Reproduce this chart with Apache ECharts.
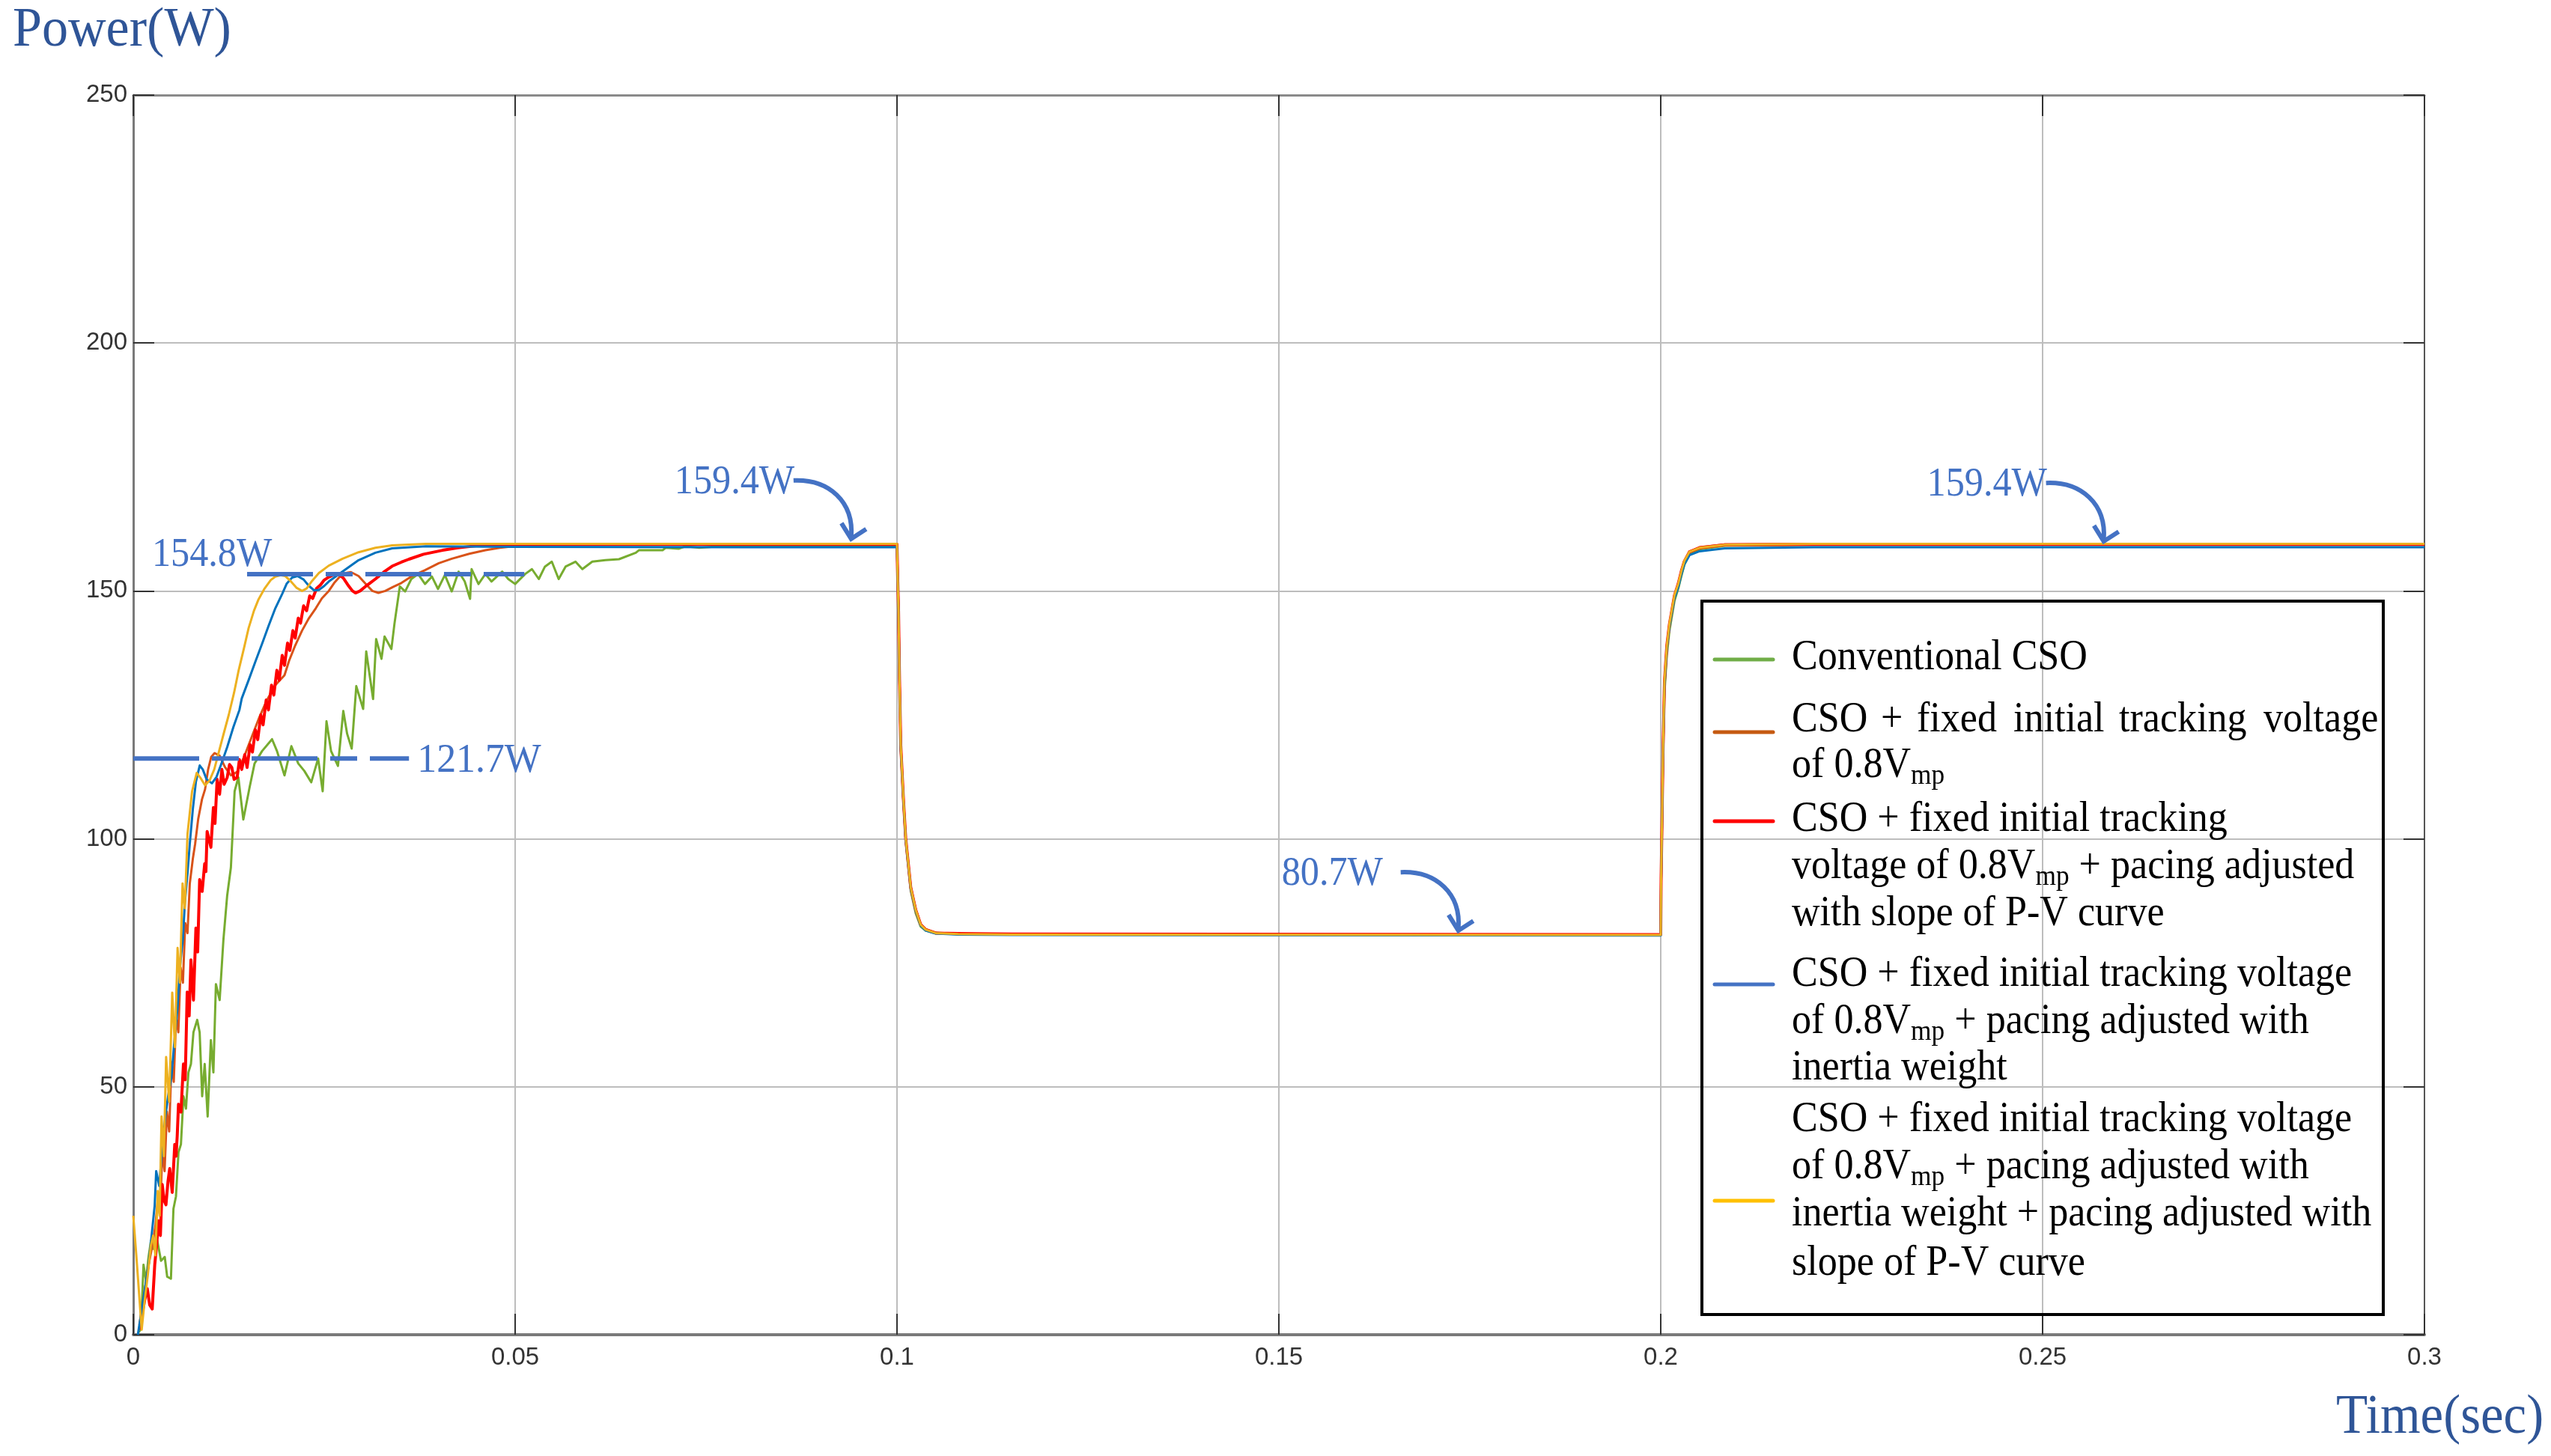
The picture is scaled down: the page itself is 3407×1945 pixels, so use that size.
<!DOCTYPE html>
<html>
<head>
<meta charset="utf-8">
<script src="https://cdn.jsdelivr.net/npm/echarts@6/dist/echarts.min.js"></script>
<style>html,body{margin:0;padding:0;background:#fff}#c{width:3407px;height:1945px}</style>
</head>
<body>
<div id="c"></div>
<script>
// ---------------- data (time in ms, power in W) ----------------
const seriesNames = [
  'Conventional CSO',
  'CSO + fixed initial tracking voltage of 0.8Vmp',
  'CSO + fixed initial tracking voltage of 0.8Vmp + pacing adjusted with slope of P-V curve',
  'CSO + fixed initial tracking voltage of 0.8Vmp + pacing adjusted with inertia weight',
  'CSO + fixed initial tracking voltage of 0.8Vmp + pacing adjusted with inertia weight + pacing adjusted with slope of P-V curve'
];
const xTicks = [0, 0.05, 0.1, 0.15, 0.2, 0.25, 0.3];
const yTicks = [0, 50, 100, 150, 200, 250];

const tGreen = [0.7, 1.0, 1.34, 1.67, 2.0, 2.32, 2.65, 3.14, 3.63, 4.12, 4.44, 4.93, 5.26, 5.59, 5.92, 6.24, 6.57, 6.9, 7.22, 7.55, 7.88,
  8.37, 8.69, 9.02, 9.35, 9.74, 10.16, 10.49, 10.82, 11.31, 11.8, 12.29, 12.78, 13.27, 13.76, 14.41, 15.23, 15.88, 16.86, 18.17, 18.82,
  19.8, 20.7, 21.6, 22.4, 23.3, 24.2, 24.8, 25.3, 25.9, 26.8, 27.5, 28.0, 28.6, 29.2, 30.1, 30.5, 31.4, 31.8, 32.5, 32.9,
  33.8, 34.2, 34.9, 35.6, 36.4, 37.3, 38.2, 39.1, 39.9, 40.8, 41.7, 42.6, 43.4, 44.1, 44.3, 45.2, 46.1, 46.9, 48.3, 49.1,
  50.0, 51.3, 52.2, 53.1, 53.9, 54.8, 55.7, 56.6, 57.9, 58.8, 60.1, 61.8, 63.6, 65.8, 66.2, 69.3, 69.7, 71.4, 72.3, 74.1, 76.7, 88.4];
const pGreen = [0.5, 1.2, 14.1, 10.9, 15.7, 19.0, 17.3, 19.0, 14.9, 15.7, 11.7, 11.3, 25.4, 27.9, 36.8, 38.4, 48.1, 45.6, 52.9, 54.6, 61.0,
  63.5, 61.0, 48.1, 54.6, 44.0, 59.4, 52.9, 70.7, 67.5, 79.6, 88.5, 94.2, 109.6, 112.4, 103.9, 110.4, 115.2, 117.7, 120.1, 117.7,
  112.8, 118.7, 115.2, 113.7, 111.4, 116.2, 109.6, 123.7, 117.7, 114.7, 125.8, 121.2, 118.2, 130.8, 126.2, 137.8, 128.2, 140.3, 136.3, 140.8,
  138.3, 143.4, 150.9, 149.9, 152.4, 153.4, 151.4, 152.9, 150.4, 153.2, 149.9, 153.9, 151.9, 148.4, 154.4, 151.4, 153.4, 151.9, 153.9, 152.4,
  151.4, 153.4, 154.4, 152.4, 154.9, 155.9, 152.4, 154.9, 155.9, 154.4, 155.9, 156.2, 156.4, 157.7, 158.2, 158.2, 158.7, 158.5, 159.0, 158.7, 159.0, 159.2];

const tOrange = [0.8, 1.2, 1.6, 2.0, 2.5, 2.9, 3.2, 3.5, 3.8, 4.1, 4.4, 4.7, 5.0, 5.3, 5.6, 5.9, 6.2, 6.5, 6.8, 7.1, 7.4, 7.8, 8.1, 8.5,
  9.0, 9.4, 9.8, 10.2, 10.65, 11.3, 12.0, 12.8, 13.6, 14.5, 15.5, 16.5, 17.5, 18.6, 19.8, 20.4, 21.2, 22.1, 23.0, 23.9, 24.7, 25.6,
  26.3, 27.0, 27.8, 28.5, 29.5, 30.5, 31.3, 32.1, 33.0, 34.0, 35.1, 36.5, 38.2, 40.0, 41.7, 44.0, 46.1, 48.0, 50.4, 55, 80];
const pOrange = [2, 6, 10, 14, 18, 22, 27, 24, 37, 33, 45, 41, 55, 51, 64, 61, 74, 71, 83, 81, 91, 96, 99, 104,
  108, 110, 114, 116.5, 117.3, 116.8, 114.5, 112.8, 113.5, 116.5, 120.5, 124.5, 128, 131, 133, 135.9, 139, 142, 144.5, 146.5, 148.5, 150,
  151.6, 152.8, 153.6, 153.8, 153, 151.3, 150, 149.6, 150, 150.8, 151.6, 153, 154.2, 155.6, 156.5, 157.5, 158.2, 158.7, 159.1, 159.4, 159.5];

const tRed = [0.9, 1.18, 1.5, 1.83, 2.15, 2.48, 2.81, 3.05, 3.3, 3.55, 3.79, 4.05, 4.28, 4.55, 4.77, 5.1, 5.43, 5.6, 5.75, 5.92, 6.24,
  6.57, 6.8, 7.06, 7.32, 7.55, 7.88, 8.2, 8.43, 8.69, 9.02, 9.35, 9.51, 9.67, 10.16, 10.49, 10.7, 10.98, 11.3, 11.6, 11.9, 12.3, 12.6,
  12.9, 13.2, 13.6, 13.9, 14.2, 14.6, 14.9, 15.3, 15.6, 16.0, 16.3, 16.7, 17.0, 17.4, 17.7, 18.1, 18.4, 18.8, 19.1, 19.5, 19.8, 20.2,
  20.5, 20.9, 21.2, 21.6, 21.9, 22.3, 22.7, 23.1, 23.5, 24.0, 24.5, 25.0, 25.6, 26.3, 26.9, 27.5, 28.2, 28.7, 29.1, 29.7, 30.4, 31.0,
  31.7, 32.8, 33.9, 35.1, 36.1, 38.0, 40.5, 42.5, 44.9, 49.2, 80];
const pRed = [1, 4.4, 7, 9.3, 6, 5.2, 14.1, 18, 23, 20, 30.3, 27, 26.2, 31, 33.5, 28.7, 38.4, 36, 40, 46.5, 44.9,
  54.6, 51.4, 69.1, 64.3, 75.6, 67.5, 82, 77.2, 91.8, 89.4, 95, 93.4, 101.5, 98.3, 106.3, 103.1, 112, 109, 114, 111, 112.4, 115,
  114.4, 112, 112.4, 116, 114, 117, 114.4, 119, 117.5, 122, 120, 125, 123, 128, 126, 131, 129, 134, 132, 137, 135, 139.5,
  138, 142, 140.5, 144.5, 143.5, 147, 146, 149, 148.5, 150.5, 151.2, 152.2, 152.8, 153.3, 153.4, 152.6, 151, 150, 149.6, 150, 150.9, 151.6,
  152.4, 153.8, 155, 155.8, 156.4, 157.4, 158.2, 158.7, 159.1, 159.4, 159.4];

const tBlue = [0.6, 1.1, 1.6, 2.0, 2.4, 2.8, 3.0, 3.4, 3.8, 4.2, 4.6, 5.0, 5.4, 5.8, 6.1, 6.5, 6.75, 7.1, 7.4, 7.8, 8.2, 8.7, 9.1,
  9.6, 10.3, 10.9, 11.5, 12.3, 13.1, 13.9, 14.2, 15.1, 16.0, 16.9, 17.7, 18.6, 19.5, 20.1, 20.8, 21.5, 22.3, 23.0, 23.7, 24.3,
  25.0, 25.6, 27.4, 29.5, 31.7, 33.9, 38.3, 50, 80];
const pBlue = [0, 5, 10, 14, 20, 26, 33, 30, 38, 44, 48.5, 52, 59.5, 66, 74, 80, 87, 93, 99, 106, 111.5, 114.8, 114,
  112, 111.2, 112.5, 115, 118.5, 122.5, 126, 128.3, 132, 135.8, 139.5, 142.9, 146.5, 149.4, 151.5, 152.7, 153.0, 152.3, 151.0, 150.1, 150.2,
  151.0, 151.9, 153.9, 156.2, 157.7, 158.6, 159.0, 158.9, 158.8];

const tYellow = [0, 0.4, 1.1, 1.5, 1.9, 2.3, 2.6, 2.9, 3.2, 3.45, 3.7, 4.0, 4.3, 4.7, 5.1, 5.45, 5.8, 6.1, 6.45, 6.75, 7.1, 7.7,
  8.3, 8.8, 9.4, 10.0, 10.6, 11.2, 11.8, 12.5, 13.2, 13.8, 14.5, 15.1, 15.8, 16.4, 17.2, 18.0, 18.6, 19.3, 19.9, 20.6, 21.4,
  22.1, 22.7, 23.4, 24.3, 25.6, 27.4, 29.5, 31.7, 33.9, 38.3, 50, 80];
const pYellow = [24, 16, 1, 7, 12, 18, 20, 16, 29, 24, 44, 36, 56, 47, 69, 58, 78, 71, 91, 86, 101, 109.6,
  113.3, 112.3, 110.8, 111.8, 114, 117.5, 121, 125, 129.5, 134, 138.5, 142.5, 146, 148.3, 150.5, 152.2, 152.9, 153.2, 153.0, 152, 150.6,
  150.0, 150.5, 152, 153.6, 155.1, 156.5, 157.8, 158.7, 159.2, 159.5, 159.5, 159.5];

// after 0.1 s: irradiance step down and back up
const tTail = [100, 100.1, 100.2, 100.33, 100.49, 100.82, 101.14, 101.8, 102.45, 103.1, 103.76, 105.07, 108, 115,
  200, 200.05, 200.16, 200.3, 200.49, 200.8, 201.14, 201.8, 202.3, 202.7, 203.1, 203.76, 205.07, 208.4, 220, 300];
const pGreenTail = [159.1, 152, 146, 132, 118, 108, 99.5, 89.5, 85, 82.3, 81.5, 80.9, 80.8, 80.7,
  80.6, 91, 101, 116, 129.5, 137, 142, 148, 150.5, 153, 155.3, 157.3, 158.4, 159.1, 159.3, 159.3];
const pOrangeTail = [159.5, 152, 146, 132, 119, 108.5, 100, 90.3, 85.8, 82.8, 81.8, 81.1, 80.8, 80.7,
  80.6, 92, 103, 118, 131.5, 138.8, 143.2, 149, 151.4, 154, 156, 157.9, 158.8, 159.4, 159.5, 159.5];
const pRedTail = [159.4, 152, 146, 132, 119, 108.6, 100.1, 90.2, 85.7, 82.7, 81.7, 81.0, 80.9, 80.8,
  80.7, 92, 103, 118, 131.7, 139, 143.3, 149.1, 151.5, 154, 156, 157.9, 158.7, 159.3, 159.4, 159.4];
const pBlueTail = [158.8, 151.5, 145.5, 131.5, 118.5, 108.3, 99.8, 90, 85.5, 82.5, 81.5, 80.9, 80.7, 80.6,
  80.5, 91.5, 102.5, 117.5, 131, 138.5, 142.8, 148.5, 150.8, 153.3, 155.4, 157.2, 158, 158.6, 158.8, 158.8];
const pYellowTail = [159.5, 152, 146, 132, 119, 108.7, 100.1, 90.2, 85.7, 82.7, 81.7, 81.0, 80.8, 80.7,
  80.6, 92, 103, 118, 131.9, 139, 143.4, 149.2, 151.5, 154, 156.1, 157.9, 158.7, 159.3, 159.5, 159.5];

// annotations
const guideLines = [
  { label: '154.8W', p: 153.4, from: 0.0149, to: 0.0512 },
  { label: '121.7W', p: 116.2, from: 0.0, to: 0.0361 }
];
const arrowNotes = [
  { label: '159.4W', t: 0.0940, p: 160.5 },
  { label: '80.7W', t: 0.1735, p: 81.5 },
  { label: '159.4W', t: 0.2580, p: 160.0 }
];

// ---------------- chart ----------------
const lineColors = ['#77AC30', '#D95319', '#FF0000', '#0072BD', '#EDB120'];
const legendColors = ['#70AD47', '#C55A11', '#FF0000', '#4472C4', '#FFC000'];
const toPairs = (ts, ps) => ts.map((t, i) => [t / 1000, ps[i]]);
const seriesData = [
  toPairs(tGreen.concat(tTail), pGreen.concat(pGreenTail)),
  toPairs(tOrange.concat(tTail), pOrange.concat(pOrangeTail)),
  toPairs(tRed.concat(tTail), pRed.concat(pRedTail)),
  toPairs(tBlue.concat(tTail), pBlue.concat(pBlueTail)),
  toPairs(tYellow.concat(tTail), pYellow.concat(pYellowTail))
];

const chart = echarts.init(document.getElementById('c'), null, { renderer: 'canvas', width: 3407, height: 1945 });

const tickStyle = { show: true, inside: true, length: 28, lineStyle: { color: '#333', width: 2 } };
const series = seriesData.map((d, i) => ({
  name: seriesNames[i], type: 'line', data: d, symbol: 'none', showSymbol: false,
  sampling: null, animation: false, silent: true, z: 2 + i,
  lineStyle: { color: lineColors[i], width: i === 2 ? 4 : 3, join: 'round' },
  itemStyle: { color: lineColors[i] }
}));
guideLines.forEach((gl, k) => {
  series.push({
    name: 'guide' + k, type: 'line', symbol: 'none', showSymbol: false, silent: true, animation: false, z: 20,
    data: [[gl.from, gl.p], [gl.to, gl.p]],
    lineStyle: { color: '#4472C4', width: 6, type: [88, 17, 36, 17], cap: 'butt' },
    itemStyle: { color: '#4472C4' }
  });
});

const option = {
  backgroundColor: '#ffffff',
  animation: false,
  grid: { left: 178, top: 127, width: 3060, height: 1656, containLabel: false, outerBoundsMode: 'none' },
  xAxis: [
    { type: 'value', min: xTicks[0], max: xTicks[xTicks.length - 1], interval: 0.05, position: 'bottom',
      axisLine: { show: true, onZero: false, lineStyle: { color: '#7a7a7a', width: 4 } },
      axisTick: tickStyle,
      axisLabel: { fontSize: 33, color: '#333', fontFamily: 'Liberation Sans', margin: 14,
        formatter: v => String(+v.toFixed(2)) },
      splitLine: { show: true, lineStyle: { color: '#bdbdbd', width: 2 } } },
    { type: 'value', min: xTicks[0], max: xTicks[xTicks.length - 1], interval: 0.05, position: 'top',
      axisLine: { show: true, onZero: false, lineStyle: { color: '#8a8a8a', width: 3 } },
      axisTick: tickStyle, axisLabel: { show: false }, splitLine: { show: false } }
  ],
  yAxis: [
    { type: 'value', min: yTicks[0], max: yTicks[yTicks.length - 1], interval: 50, position: 'left',
      axisLine: { show: true, onZero: false, lineStyle: { color: '#7a7a7a', width: 3 } },
      axisTick: tickStyle,
      axisLabel: { fontSize: 33, color: '#333', fontFamily: 'Liberation Sans', margin: 8 },
      splitLine: { show: true, lineStyle: { color: '#bdbdbd', width: 2 } } },
    { type: 'value', min: yTicks[0], max: yTicks[yTicks.length - 1], interval: 50, position: 'right',
      axisLine: { show: true, onZero: false, lineStyle: { color: '#555', width: 2 } },
      axisTick: tickStyle, axisLabel: { show: false }, splitLine: { show: false } }
  ],
  series: series
};
chart.setOption(option);

// ---------------- overlay graphics (text, arrows, legend) ----------------
const mctx = document.createElement('canvas').getContext('2d');
function textWidth(s, font) { mctx.font = font; return mctx.measureText(s).width; }
function txt(s, x, baseline, size, color, family, sx) {
  return { type: 'text', x: x, y: baseline - 0.34 * size, scaleX: sx, z: 200, silent: true,
    style: { text: s, x: 0, y: 0, fill: color, font: size + 'px "' + family + '"',
      align: 'left', verticalAlign: 'middle', textAlign: 'left', textVerticalAlign: 'middle' } };
}
const SERIF = 'Liberation Serif';
const ANN = '#4472C4';
const g = [];

// axis titles
g.push(txt('Power(W)', 17, 67, 74, '#2F5597', SERIF, 0.947));
g.push(txt('Time(sec)', 3120, 1920, 73, '#2F5597', SERIF, 0.945));

// guide line labels
const toPx = (t, p) => chart.convertToPixel({ gridIndex: 0 }, [t, p]);
{
  const a = toPx(guideLines[0].from, guideLines[0].p);
  g.push(txt(guideLines[0].label, a[0] - 127, a[1] - 7, 54, ANN, SERIF, 0.93));
  const b = toPx(guideLines[1].to, guideLines[1].p);
  g.push(txt(guideLines[1].label, b[0] + 11, b[1] + 22, 54, ANN, SERIF, 0.96));
}
// curved arrows
arrowNotes.forEach(n => {
  const [tx, ty] = toPx(n.t, n.p);
  g.push({ type: 'bezierCurve', z: 200, silent: true,
    shape: { x1: tx - 77, y1: ty - 78, cpx1: tx - 30, cpy1: ty - 80, cpx2: tx + 4, cpy2: ty - 50, x2: tx, y2: ty - 2 },
    style: { stroke: ANN, lineWidth: 6, fill: null } });
  g.push({ type: 'polyline', z: 200, silent: true,
    shape: { points: [[tx - 13, ty - 21], [tx, ty], [tx + 20, ty - 13]] },
    style: { stroke: ANN, lineWidth: 6, fill: null, lineJoin: 'miter' } });
  g.push(txt(n.label, tx - 236, ty - 57, 54, ANN, SERIF, 0.93));
});

// legend
const LS = 56, LSX = 0.93, SUBS = 38;
g.push({ type: 'rect', z: 190, silent: true, shape: { x: 2273, y: 803, width: 910, height: 953 },
  style: { stroke: '#000', lineWidth: 4, fill: null } });
function richLine(segs, x, baseline) {
  let cx = x;
  segs.forEach(seg => {
    let s = seg[0]; const sub = !!seg[1];
    const size = sub ? SUBS : LS;
    const font = size + 'px "' + SERIF + '"';
    if (s.startsWith(' ')) { cx += textWidth(' ', font) * LSX; s = s.slice(1); }
    g.push(txt(s, cx, baseline + (sub ? 8 : 0), size, '#000', SERIF, LSX));
    cx += textWidth(s, font) * LSX;
  });
}
const legendMarksY = [881, 978, 1097, 1315, 1604];
legendMarksY.forEach((y, i) => {
  g.push({ type: 'line', z: 200, silent: true, shape: { x1: 2290, y1: y, x2: 2368, y2: y },
    style: { stroke: legendColors[i], lineWidth: 5, lineCap: 'round' } });
});
const LX = 2393;
richLine([['Conventional CSO']], LX, 898);
// justified line
[['CSO', 2393], ['+', 2512], ['fixed', 2560], ['initial', 2689], ['tracking', 2830], ['voltage', 3023]]
  .forEach(w => g.push(txt(w[0], w[1], 981, LS, '#000', SERIF, LSX)));
richLine([['of 0.8V'], ['mp', 1]], LX, 1042);
richLine([['CSO + fixed initial tracking']], LX, 1114);
richLine([['voltage of 0.8V'], ['mp', 1], [' + pacing adjusted']], LX, 1177);
richLine([['with slope of P-V curve']], LX, 1240);
richLine([['CSO + fixed initial tracking voltage']], LX, 1321);
richLine([['of 0.8V'], ['mp', 1], [' + pacing adjusted with']], LX, 1384);
richLine([['inertia weight']], LX, 1446);
richLine([['CSO + fixed initial tracking voltage']], LX, 1515);
richLine([['of 0.8V'], ['mp', 1], [' + pacing adjusted with']], LX, 1578);
richLine([['inertia weight + pacing adjusted with']], LX, 1641);
richLine([['slope of P-V curve']], LX, 1707);

chart.setOption({ graphic: { elements: g } });
</script>
</body>
</html>
